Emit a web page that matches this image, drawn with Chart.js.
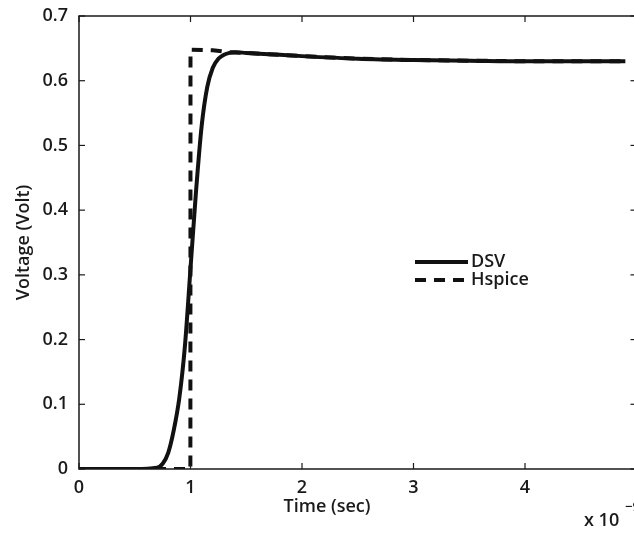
<!DOCTYPE html>
<html><head><meta charset="utf-8">
<script src="https://cdn.jsdelivr.net/npm/chart.js@4.4.1/dist/chart.umd.min.js"></script>
<style>html,body{margin:0;padding:0;background:#fff;overflow:hidden;width:634px;height:537px}#wrap{position:absolute;left:0;top:0;width:640px;height:537px}</style>
</head><body><div id="wrap"><canvas id="c" width="640" height="537"></canvas></div>
<script>
const timeDSV = [0, 0.5, 0.7, 0.75, 0.8, 0.85, 0.9, 0.95, 1.0, 1.05, 1.1, 1.15, 1.2, 1.25, 1.3, 1.35, 1.4, 1.5, 1.7, 2.0, 2.5, 3.0, 3.5, 4.0, 4.5, 4.9];
const voltDSV = [0, 0, 0.002, 0.008, 0.025, 0.06, 0.11, 0.19, 0.31, 0.43, 0.53, 0.59, 0.62, 0.634, 0.640, 0.643, 0.644, 0.643, 0.641, 0.638, 0.634, 0.632, 0.631, 0.630, 0.630, 0.630];
const timeHspice = [0, 0.999, 1.0, 1.2, 1.35, 1.5, 1.7, 2.0, 2.5, 3.0, 3.5, 4.0, 4.5, 4.9];
const voltHspice = [0, 0, 0.648, 0.647, 0.644, 0.643, 0.641, 0.638, 0.634, 0.632, 0.631, 0.630, 0.630, 0.630];
const xTicks = [0, 1, 2, 3, 4, 5];
const xTickLabels = ['0', '1', '2', '3', '4', ''];
const yTicks = [0, 0.1, 0.2, 0.3, 0.4, 0.5, 0.6, 0.7];
const yTickLabels = ['0', '0.1', '0.2', '0.3', '0.4', '0.5', '0.6', '0.7'];
const seriesNames = ['DSV', 'Hspice'];

const FONT = '"Open Sans", "Liberation Sans", sans-serif';
const INK = '#1a1a1a';

const boxPlugin = {
  id: 'box',
  afterDatasetsDraw(chart) {
    const {ctx, chartArea: a, scales: {x, y}} = chart;
    ctx.save();
    ctx.strokeStyle = INK; ctx.lineWidth = 1.5;
    ctx.strokeRect(a.left, a.top, a.right - a.left, a.bottom - a.top);
    ctx.lineWidth = 1.2;
    xTicks.forEach(v => { const px = x.getPixelForValue(v);
      ctx.beginPath(); ctx.moveTo(px, a.bottom); ctx.lineTo(px, a.bottom - 6); ctx.stroke();
      ctx.beginPath(); ctx.moveTo(px, a.top); ctx.lineTo(px, a.top + 6); ctx.stroke(); });
    yTicks.forEach(v => { const py = y.getPixelForValue(v);
      ctx.beginPath(); ctx.moveTo(a.left, py); ctx.lineTo(a.left + 6, py); ctx.stroke();
      ctx.beginPath(); ctx.moveTo(a.right, py); ctx.lineTo(a.right - 6, py); ctx.stroke(); });
    // legend
    const ds = chart.data.datasets;
    const lx0 = 415, lx1 = 468, ly = [262, 280];
    ds.forEach((d, i) => {
      ctx.save();
      ctx.strokeStyle = d.borderColor; ctx.lineWidth = d.borderWidth;
      ctx.setLineDash(d.borderDash || []);
      ctx.beginPath(); ctx.moveTo(lx0, ly[i]); ctx.lineTo(lx1, ly[i]); ctx.stroke();
      ctx.restore();
      ctx.fillStyle = INK; ctx.font = '600 18px ' + FONT; ctx.textBaseline = 'middle'; ctx.textAlign = 'left';
      ctx.fillText(d.label, lx1 + 3, ly[i]);
    });
    // x label and exponent
    ctx.fillStyle = INK; ctx.textAlign = 'center'; ctx.textBaseline = 'middle';
    ctx.font = '600 18px ' + FONT;
    ctx.fillText('Time (sec)', 327, 507);
    ctx.textAlign = 'left';
    ctx.fillText('x 10', 584, 521);
    ctx.font = '600 13px ' + FONT;
    ctx.fillText('−9', 625, 507);
    ctx.restore();
  }
};

new Chart(document.getElementById('c'), {
  type: 'line',
  data: {
    datasets: [
      { label: seriesNames[0], data: timeDSV.map((t, i) => ({x: t, y: voltDSV[i]})),
        borderColor: '#111', borderWidth: 4, pointRadius: 0, tension: 0.3, cubicInterpolationMode: 'monotone', fill: false },
      { label: seriesNames[1], data: timeHspice.map((t, i) => ({x: t, y: voltHspice[i]})),
        borderColor: '#111', borderWidth: 4, borderDash: [11, 8], pointRadius: 0, tension: 0, fill: false }
    ]
  },
  options: {
    responsive: false, animation: false, devicePixelRatio: 1,
    layout: { padding: { left: 0, right: 3.5, top: 16, bottom: 0 } },
    plugins: { legend: { display: false }, tooltip: { enabled: false } },
    scales: {
      x: { type: 'linear', min: 0, max: 5,
        afterBuildTicks: s => { s.ticks = xTicks.map(v => ({value: v})); },
        afterFit: s => { s.height = 68; s.paddingLeft = 0; s.paddingRight = 0; },
        grid: { display: false, drawTicks: false }, border: { display: false },
        ticks: { color: INK, font: { family: FONT, size: 18, weight: '600' }, padding: 8, maxRotation: 0, autoSkip: false,
          callback: (v, i) => xTickLabels[i] } },
      y: { type: 'linear', min: 0, max: 0.7,
        afterBuildTicks: s => { s.ticks = yTicks.map(v => ({value: v})); },
        afterFit: s => { s.width = 79; s.paddingTop = 0; s.paddingBottom = 0; },
        grid: { display: false, drawTicks: false }, border: { display: false },
        title: { display: true, text: 'Voltage (Volt)', color: INK, font: { family: FONT, size: 18, weight: '600' }, padding: { top: 13, bottom: 0 } },
        ticks: { color: INK, font: { family: FONT, size: 18, weight: '600' }, padding: 11, autoSkip: false,
          callback: (v, i) => yTickLabels[i] } }
    }
  },
  plugins: [boxPlugin]
});
</script></body></html>
